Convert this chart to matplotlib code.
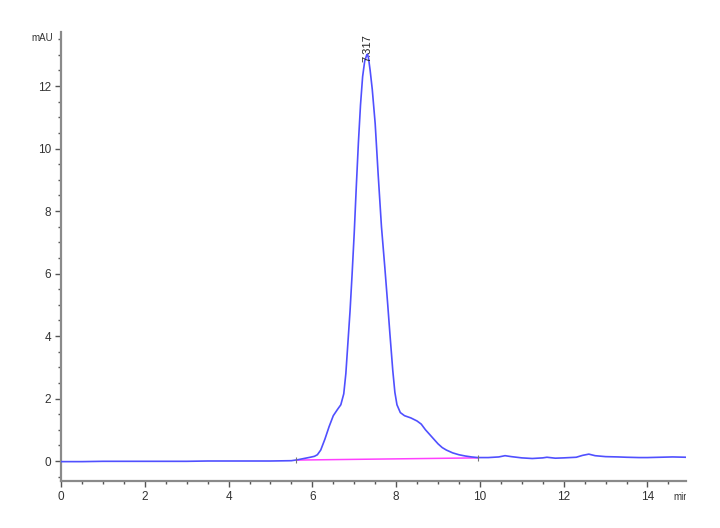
import matplotlib
matplotlib.use("Agg")
import matplotlib.pyplot as plt
from matplotlib.transforms import Bbox

plt.rcParams['font.family'] = ['Liberation Sans', 'DejaVu Sans']

# Chromatogram signal (time in min, absorbance in mAU)
time_min = [0.0, 0.5, 1.0, 1.5, 2.0, 2.5, 3.0, 3.5, 4.0, 4.5, 5.0, 5.5,
            5.65, 5.8, 5.95, 6.05, 6.12, 6.2, 6.3, 6.4, 6.5, 6.6, 6.68, 6.75,
            6.8, 6.85, 6.9, 6.95, 7.0, 7.05, 7.1, 7.15, 7.2, 7.25, 7.3, 7.317,
            7.34, 7.38, 7.43, 7.5, 7.57, 7.65, 7.73, 7.8, 7.85, 7.92, 7.97,
            8.02, 8.1, 8.2, 8.35, 8.5, 8.6, 8.7, 8.8, 8.9, 9.0, 9.1, 9.2,
            9.35, 9.5, 9.65, 9.8, 9.95, 10.2, 10.45, 10.6, 10.75, 11.0, 11.25,
            11.5, 11.6, 11.8, 12.0, 12.3, 12.45, 12.6, 12.75, 13.0, 13.3, 13.5,
            13.8, 14.0, 14.3, 14.6, 14.92]
signal_mau = [-0.02, -0.02, -0.01, -0.01, -0.01, -0.01, -0.01, 0.0, 0.0, 0.0, 0.0, 0.01,
              0.04, 0.08, 0.12, 0.15, 0.2, 0.35, 0.7, 1.1, 1.45, 1.65, 1.8, 2.15,
              2.8, 3.8, 4.8, 6.0, 7.3, 8.8, 10.2, 11.4, 12.3, 12.8, 13.0, 13.02,
              12.9, 12.5, 11.9, 10.8, 9.2, 7.5, 6.2, 5.0, 4.1, 2.9, 2.2,
              1.8, 1.55, 1.45, 1.38, 1.28, 1.18, 1.0, 0.85, 0.7, 0.55, 0.43, 0.35,
              0.26, 0.2, 0.16, 0.13, 0.11, 0.11, 0.13, 0.17, 0.14, 0.1, 0.08,
              0.1, 0.12, 0.09, 0.1, 0.12, 0.18, 0.22, 0.17, 0.14, 0.13, 0.12,
              0.11, 0.11, 0.12, 0.13, 0.12]

# Integration baseline
baseline_t = [5.62, 9.95]
baseline_y = [0.03, 0.10]

peak_time = 7.317
peak_height = 13.02
peak_label = "7.317"

x_ticks = [0, 2, 4, 6, 8, 10, 12, 14]
y_ticks = [0, 2, 4, 6, 8, 10, 12]

fig = plt.figure(figsize=(7.2, 5.28), dpi=100)
ax = fig.add_axes([61/720, 47/528, (686-61)/720, (481-32)/528])

ax.plot(time_min, signal_mau, color='#5050ff', lw=1.2, zorder=3)
ax.plot(baseline_t, baseline_y, color='#ff40ff', lw=1.1, zorder=2)
ax.plot(baseline_t, baseline_y, ls='none', marker='|', ms=5, mew=0.8,
        color='#777777', zorder=4)

ax.text(peak_time, peak_height - 0.25, peak_label, rotation=90,
        ha='center', va='bottom', fontsize=8, color='#222222', zorder=5)

ax.set_xlim(0, 14.92)
ax.set_ylim(-0.64, 13.73)
ax.set_xticks(x_ticks)
ax.set_yticks(y_ticks)
ax.set_xticks([v/2 for v in range(0, 30)], minor=True)
ax.set_yticks([v/2 - 0.5 for v in range(0, 29)], minor=True)

for s in ['top', 'right']:
    ax.spines[s].set_visible(False)
for s in ['left', 'bottom']:
    ax.spines[s].set_color('#8a8a8a')
    ax.spines[s].set_linewidth(1.6)

ax.tick_params(which='major', length=4, width=1.0, color='#555555',
               labelsize=8.5, labelcolor='#333333', pad=3)
ax.tick_params(which='minor', length=2.5, width=1.0, color='#555555')

fig.text(53/720, 1 - 38/528, "mAU", ha='right', va='center', fontsize=7,
         color='#333333')
t = fig.text(673/720, 1 - 497/528, "min", ha='left', va='center', fontsize=7,
             color='#333333')
t.set_clip_box(Bbox.from_extents(0, 0, 686, 528))
t.set_clip_on(True)

fig.savefig("out.png", dpi=100)
